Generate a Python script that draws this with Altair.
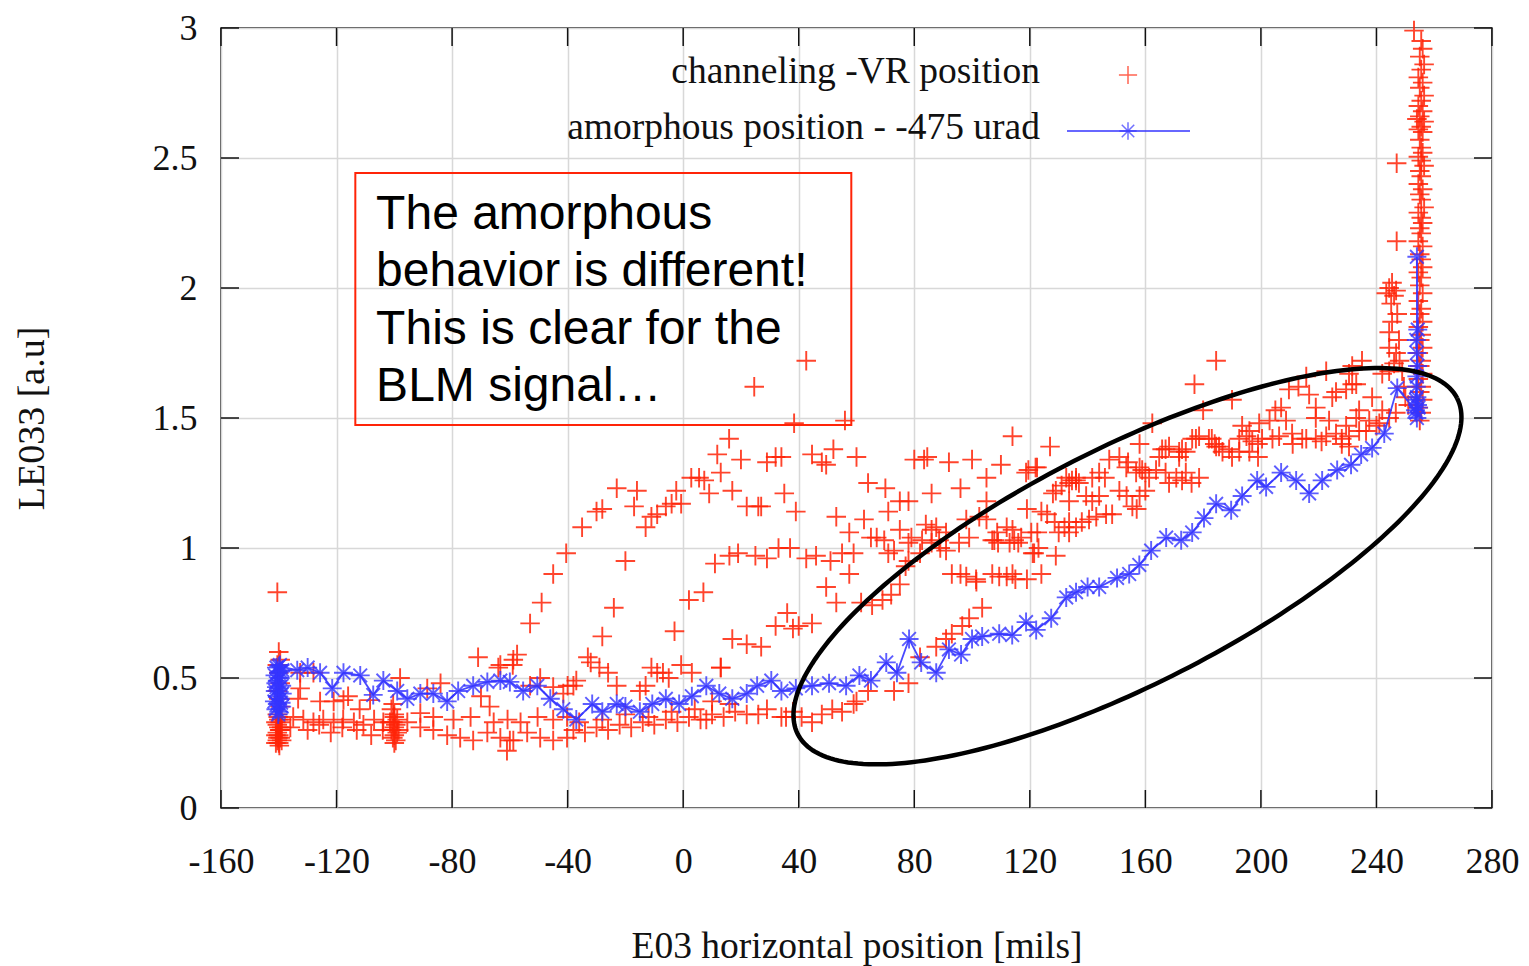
import altair as alt
import numpy as np
import pandas as pd

# ---------------------------------------------------------------- axes
X_DOMAIN = [-160, 280]
Y_DOMAIN = [0, 3]
X_TICKS = [-160, -120, -80, -40, 0, 40, 80, 120, 160, 200, 240, 280]
Y_TICKS = [0, 0.5, 1, 1.5, 2, 2.5, 3]

X_TITLE = "E03 horizontal position [mils]"
Y_TITLE = "LE033 [a.u]"
LEGEND_LABELS = ["channeling -VR position", "amorphous position - -475 urad"]
NOTE_TEXT = "The amorphous\nbehavior is different!\nThis is clear for the\nBLM signal…"

# ---------------------------------------------------------------- channeling scan (red +)
chan_start = [
    (-140.5, 0.83), (-140.0, 0.60), (-139.5, 0.57), (-140.5, 0.55), (-140.0, 0.52),
    (-139.5, 0.48), (-140.5, 0.45), (-140.0, 0.42), (-139.5, 0.39), (-140.5, 0.36),
    (-140.0, 0.34), (-139.5, 0.33), (-140.5, 0.32), (-140.0, 0.31), (-139.5, 0.30),
    (-140.5, 0.29), (-140.0, 0.28), (-139.5, 0.27), (-140.5, 0.26), (-140.0, 0.25),
    (-139.8, 0.24), (-140.2, 0.35), (-139.7, 0.30), (-140.3, 0.27), (-141.0, 0.33),
    (-139.0, 0.31), (-141.0, 0.28), (-139.0, 0.26), (-141.0, 0.25), (-139.0, 0.34),
]
chan_flat = [
    (-135, 0.35), (-131.5, 0.34), (-128, 0.33), (-124.6, 0.34), (-121, 0.33), (-117.7, 0.34),
    (-114, 0.33), (-110.7, 0.32), (-107, 0.34), (-103.8, 0.33),
    (-136, 0.31), (-130, 0.30), (-126, 0.32), (-122, 0.29), (-118, 0.31), (-113, 0.30),
    (-108, 0.28), (-104, 0.30),
    (-132.6, 0.46), (-133.3, 0.42), (-125.7, 0.41), (-121, 0.41), (-117.6, 0.415), (-116, 0.43),
    (-112, 0.38), (-108.4, 0.415), (-98, 0.50), (-100.4, 0.40), (-88.6, 0.46), (-84, 0.48),
    (-70, 0.43), (-67, 0.39), (-71, 0.58), (-63.3, 0.55), (-57.5, 0.59), (-58.8, 0.57),
    (-53, 0.47), (-49.5, 0.50), (-45, 0.465), (-41.5, 0.44), (-128, 0.52), (-132.6, 0.52),
    (-95.5, 0.33), (-91, 0.31), (-86.5, 0.30), (-81.7, 0.28), (-77.2, 0.27), (-72.7, 0.26),
    (-67.8, 0.29), (-63.3, 0.27), (-58.8, 0.26), (-54, 0.29), (-49.5, 0.27), (-45, 0.26),
    (-40.2, 0.27),
    (-91, 0.365), (-86.5, 0.35), (-79.5, 0.34), (-73.6, 0.35), (-65.6, 0.33), (-60.8, 0.34),
    (-56.3, 0.33), (-50.4, 0.35), (-45, 0.34), (-40.2, 0.35), (-61, 0.22), (-60, 0.26),
]
chan_block = [
    (-101, 0.38), (-100, 0.36), (-99, 0.34), (-100.5, 0.33), (-99.5, 0.32), (-100, 0.31),
    (-101, 0.30), (-99, 0.29), (-100, 0.28), (-100.5, 0.27), (-99.5, 0.26), (-100, 0.25),
    (-98.5, 0.30), (-101.5, 0.33), (-100, 0.35),
]
chan_mid_low = [
    (-38, 0.30), (-34, 0.29), (-30, 0.31), (-26, 0.30), (-22, 0.32), (-18, 0.31), (-14, 0.33),
    (-10, 0.32), (-6, 0.34), (-2, 0.33), (2, 0.35), (6, 0.34), (10, 0.36), (14, 0.35),
    (18, 0.37), (22, 0.36), (26, 0.36), (29, 0.38), (34, 0.35), (38, 0.37), (41, 0.35),
    (44.6, 0.33), (48, 0.36), (51.6, 0.38), (55, 0.37), (59, 0.40), (60, 0.41), (64, 0.45),
    (73, 0.45), (78, 0.48), (-36, 0.33), (-28, 0.34), (-20, 0.36), (-12, 0.35), (-4, 0.37),
    (4, 0.38), (8, 0.34), (10, 0.41), (16, 0.40), (35.6, 0.35),
]
chan_mid_rise = [
    (-64, 0.54), (-59, 0.55), (-40, 0.47), (-38, 0.47), (-37, 0.49), (-33, 0.58), (-32, 0.56),
    (-29, 0.54), (-26, 0.52), (-23, 0.47), (-15, 0.45), (-13, 0.47), (-11, 0.54), (-9, 0.52),
    (-7, 0.52), (-5, 0.50), (-0.7, 0.55), (3, 0.52), (13, 0.54),
]
chan_arc_high = [
    (-53, 0.71), (-49, 0.79), (-45, 0.90), (-40.5, 0.98), (-35, 1.08), (-30, 1.14), (-28, 1.15),
    (-23, 1.23), (-17, 1.16), (-16, 1.22), (-13, 1.08), (-11, 1.12), (-9, 1.13), (-6, 1.16),
    (-4, 1.17), (-2.4, 1.22), (-0.7, 1.17), (2.8, 1.27), (5.5, 1.27), (7.3, 1.26), (9, 1.21),
    (11.8, 1.36), (13, 1.29), (15.9, 1.42), (17, 1.22), (20, 1.34), (22, 1.16), (27, 1.16),
    (29, 1.33), (32, 1.35), (34, 1.35), (35, 1.21), (39, 1.14), (38.4, 1.48), (42.6, 1.72),
    (24.6, 1.62), (56, 1.49), (44.6, 1.36), (48, 1.33), (49.5, 1.32), (52, 1.38), (60, 1.35),
    (64, 1.25), (70, 1.23), (75, 1.18), (78, 1.18), (71, 1.14), (53, 1.12), (57.5, 1.06),
    (62.6, 1.11), (65, 1.04), (67, 1.04), (69.6, 1.03), (75, 1.07), (78, 1.02), (80, 1.34),
    (26, 1.16),
]
chan_arc_mid = [
    (-28, 0.66), (-24, 0.77), (-20, 0.95), (-3, 0.68), (2, 0.80), (7, 0.83), (11, 0.94),
    (16, 0.97), (19, 0.98), (25, 0.97), (29, 0.96), (33, 1.0), (37, 1.0), (42.6, 0.96),
    (46, 0.97), (51, 0.95), (55, 0.98), (59, 0.98), (57.5, 0.90), (49.5, 0.85), (53, 0.79),
    (61.6, 0.79), (65.4, 0.78), (69, 0.80), (72, 0.82), (75, 0.86), (78, 0.95), (77, 0.93),
    (73, 0.99), (71, 0.98), (82, 0.98),
]
chan_arc_low = [
    (13, 0.54), (17, 0.65), (22, 0.63), (27, 0.62), (32, 0.70), (36, 0.75), (38, 0.69),
    (40, 0.70), (44.6, 0.71), (82, 0.58), (87.6, 0.62), (91, 0.65), (93, 0.67), (96.6, 0.70),
    (99, 0.73), (103.5, 0.77), (101.5, 0.87), (98, 0.89), (96, 0.90), (93, 0.90), (101.4, 0.88),
]
chan_band = [
    (114, 1.43), (127, 1.39), (83.4, 1.34), (84.5, 1.35), (92, 1.33), (100, 1.34), (110, 1.32),
    (119.5, 1.30), (122.5, 1.31), (105, 1.27), (96, 1.23), (86, 1.21), (105, 1.18), (98, 1.11),
    (102.5, 1.12), (112, 1.08), (114, 1.07), (119, 1.15), (126, 1.13), (132.6, 1.27),
    (134.6, 1.26), (129, 1.22), (133.6, 1.18), (133.6, 1.10), (107, 1.03), (109, 1.02),
    (113, 1.02), (116, 1.02), (121.5, 0.98), (129, 0.97), (84, 1.09), (87.6, 1.08), (91, 1.06),
    (79, 1.04), (82.7, 1.03), (86, 1.02), (89, 1.0), (107, 0.90), (112, 0.89), (114, 0.90),
    (115, 0.88), (119, 0.88), (124, 0.90), (109.4, 0.89), (158, 1.40), (151, 1.35),
    (154, 1.33), (158, 1.31), (160, 1.29), (144, 1.29), (146, 1.27), (136, 1.27), (137, 1.25),
    (131, 1.24), (128, 1.21), (139.5, 1.20), (141.6, 1.18), (144, 1.20), (151, 1.22),
    (153.5, 1.20), (155.5, 1.16), (158, 1.20), (160, 1.22), (148.5, 1.13), (146.4, 1.13),
    (143, 1.12), (140.5, 1.11), (138, 1.10), (136, 1.08), (133.6, 1.06), (132, 1.08),
    (157, 1.15), (124, 1.14), (128.6, 1.10), (130, 1.06), (122.6, 1.06), (120.5, 1.06),
    (117, 1.04), (114.6, 1.03), (108.7, 1.06), (107.7, 1.03), (123, 1.0), (121, 0.98),
    (105, 1.11), (99, 1.04), (95.5, 1.02), (91, 0.99), (88.6, 1.03), (86, 1.07), (118.7, 1.29),
    (122, 1.31), (147.5, 1.34), (153.4, 1.31), (156.8, 1.29), (158.9, 1.30), (141.6, 1.27),
    (136, 1.26), (133.6, 1.25),
]
chan_upper = [
    (162.4, 1.48), (177, 1.63), (184.5, 1.72), (190, 1.57), (180, 1.53), (163.7, 1.30),
    (167, 1.29), (170.7, 1.27), (174, 1.29), (178.6, 1.27), (176, 1.25), (172.7, 1.26),
    (168.2, 1.25), (161.3, 1.27), (164.8, 1.35), (165.8, 1.38), (168.2, 1.39), (171.7, 1.37),
    (172.7, 1.38), (176.2, 1.42), (178.6, 1.43), (182, 1.42), (184.5, 1.39), (189, 1.38),
    (192.5, 1.42), (197, 1.41), (200.4, 1.42), (177.5, 1.42), (174, 1.37), (171.7, 1.35),
    (167, 1.38), (183, 1.42), (185.5, 1.39), (192.5, 1.37), (196, 1.37), (199, 1.35),
    (190, 1.35), (186.7, 1.37), (184, 1.40), (199, 1.40), (204, 1.42), (206.3, 1.43),
    (211, 1.40), (215.7, 1.42), (221, 1.41), (228, 1.40), (235, 1.72), (231.6, 1.70),
    (230.5, 1.67), (222.6, 1.68), (215.7, 1.66), (213, 1.62), (216.7, 1.59), (226, 1.60),
    (229.5, 1.61), (233, 1.63), (209.7, 1.61), (207, 1.54), (205, 1.53), (203, 1.49),
    (199.4, 1.48), (196, 1.45), (193.5, 1.47), (219, 1.50), (223.6, 1.49), (229.5, 1.47),
    (233, 1.50), (237.5, 1.49), (241, 1.48), (244.4, 1.50), (246.7, 1.52), (242, 1.53),
    (210.8, 1.44), (214.3, 1.42), (219, 1.42), (222.6, 1.43), (226, 1.44), (230.5, 1.43),
    (234, 1.45), (236.4, 1.45), (240, 1.47), (228, 1.42), (230.5, 1.39), (244.4, 1.77),
    (248, 1.72), (244.4, 1.68), (242, 1.67), (219, 1.54), (224.7, 1.58), (208.7, 1.49),
    (195, 1.43), (238.5, 1.58), (234, 1.53), (231.6, 1.63),
]
chan_edge = [
    (253.0, 2.99), (255.5, 2.95), (256.0, 2.92), (255.0, 2.89), (256.5, 2.86), (255.5, 2.84),
    (254.5, 2.81), (256.0, 2.79), (255.0, 2.77), (256.5, 2.74), (255.5, 2.72), (254.5, 2.70),
    (256.0, 2.68), (255.0, 2.66), (254.0, 2.65), (256.5, 2.64), (255.5, 2.62), (254.5, 2.61),
    (256.0, 2.60), (255.0, 2.57), (255.5, 2.54), (256.0, 2.52), (254.5, 2.505), (255.5, 2.49),
    (256.5, 2.47), (255.0, 2.45), (255.5, 2.43), (254.5, 2.40), (256.0, 2.38), (255.0, 2.36),
    (255.5, 2.34), (256.5, 2.31), (254.5, 2.29), (255.5, 2.27), (256.0, 2.25), (255.0, 2.23),
    (255.5, 2.21), (254.5, 2.18), (256.0, 2.16), (255.0, 2.13), (255.5, 2.11), (256.0, 2.08),
    (254.5, 2.06), (255.5, 2.04), (255.0, 2.01), (256.0, 1.98), (254.5, 1.95), (255.5, 1.92),
    (255.0, 1.90), (256.0, 1.87), (254.5, 1.85), (255.5, 1.82), (255.0, 1.80), (256.0, 1.77),
    (254.5, 1.75), (255.5, 1.72), (255.0, 1.70), (256.0, 1.67), (254.5, 1.65), (255.5, 1.62),
    (255.0, 1.60), (256.0, 1.57), (254.5, 1.54), (255.5, 1.52), (255.0, 1.49),
    (247, 2.48), (247, 2.18),
    (245.4, 2.02), (244.4, 2.00), (246.8, 1.99), (246.1, 1.97), (245.1, 1.94), (243.4, 1.98),
    (247.2, 1.90), (245.4, 1.87), (244.4, 1.83), (247.8, 1.80), (246.8, 1.75), (248.9, 1.68),
    (246.1, 1.71), (249.5, 1.62), (250, 1.58), (251, 1.55),
]

# ---------------------------------------------------------------- amorphous scan (blue *), in scan order
amorph = [
    (-140.0, 0.37), (-141.0, 0.38), (-139.0, 0.39), (-140.5, 0.40), (-141.5, 0.41),
    (-139.5, 0.42), (-140.5, 0.43), (-138.8, 0.44), (-141.2, 0.45), (-140.0, 0.46),
    (-139.0, 0.47), (-141.0, 0.48), (-140.5, 0.49), (-139.5, 0.50), (-141.3, 0.51),
    (-140.0, 0.52), (-138.8, 0.53), (-140.8, 0.54), (-139.6, 0.55), (-140.2, 0.36),
    (-139.2, 0.405), (-140.8, 0.465), (-139.4, 0.525), (-140.0, 0.545),
    (-133.6, 0.53), (-130, 0.54), (-125.7, 0.52), (-121.5, 0.46), (-117.6, 0.52), (-111.8, 0.51),
    (-107.3, 0.435), (-103.8, 0.49), (-99, 0.45), (-95.5, 0.42), (-91, 0.44), (-86.5, 0.44),
    (-81.7, 0.41), (-77.9, 0.45), (-72.7, 0.47), (-67.8, 0.485), (-63.3, 0.49), (-60, 0.485),
    (-55.4, 0.45), (-50.5, 0.47), (-46, 0.42), (-41.5, 0.38), (-37, 0.34), (-31.5, 0.40),
    (-28, 0.37), (-23, 0.40), (-20, 0.39), (-15, 0.37), (-10.7, 0.40), (-6, 0.42), (-1.4, 0.40),
    (3, 0.43), (8, 0.47), (12.5, 0.44), (17, 0.42), (22, 0.44), (25.6, 0.47), (30.5, 0.49),
    (34, 0.45), (39, 0.46), (44.6, 0.47), (50.5, 0.48), (56.4, 0.47), (61, 0.51), (65, 0.49),
    (70.3, 0.56), (74, 0.52), (78.2, 0.65), (82.4, 0.56), (87.6, 0.52), (92, 0.61), (96.2, 0.59),
    (100, 0.65), (103.5, 0.66), (109.4, 0.67), (113.9, 0.665), (118.7, 0.715), (122.2, 0.685),
    (127.4, 0.73), (132.6, 0.81), (136, 0.83), (140, 0.85), (144, 0.85), (150.2, 0.885),
    (154.4, 0.90), (157.9, 0.935), (162, 0.99), (167.2, 1.04), (172.4, 1.03), (176.2, 1.06),
    (180.3, 1.115), (184.5, 1.17), (189.7, 1.145), (193.5, 1.20), (198.7, 1.26), (201.8, 1.235),
    (207, 1.29), (212.2, 1.26), (216.7, 1.21), (221.2, 1.26), (226.4, 1.30), (231.2, 1.32),
    (234.7, 1.36), (238.5, 1.385), (242.7, 1.44), (247.2, 1.615),
    (253.5, 1.53), (254.0, 1.66), (254.0, 2.12), (254.3, 1.84), (253.8, 1.80), (254.0, 1.75),
    (254.2, 1.70), (253.8, 1.62), (254.0, 1.58), (254.2, 1.55), (253.8, 1.52), (254.0, 1.50),
    (254.5, 1.54), (253.7, 1.57),
]

# ---------------------------------------------------------------- annotations (data units)
NOTE_BOX = {"x": -113.5, "x2": 58.2, "y": 1.473, "y2": 2.442}
NOTE_ANCHOR = {"x": -106.3, "y": 2.227}
ELL_CENTER = (153.8, 0.93)
ELL_AXES_PX = (370, 118)
ELL_TILT_DEG = 27

# ---------------------------------------------------------------- layout / style
W, H = 1271, 780
TICK_LEN = 18
RED = "#ff2408"
BLUE = "#3535ff"
SERIF = "Liberation Serif"
SANS = "Liberation Sans"
PLUS = "M-1,0L1,0M0,-1L0,1"
STAR = "M-1,0L1,0M0,-1L0,1M-0.72,-0.72L0.72,0.72M-0.72,0.72L0.72,-0.72"

red_df = pd.DataFrame(
    chan_start + chan_flat + chan_block + chan_mid_low + chan_mid_rise
    + chan_arc_high + chan_arc_mid + chan_arc_low + chan_band + chan_upper + chan_edge,
    columns=["x", "y"],
)
blue_df = pd.DataFrame(amorph, columns=["x", "y"])
blue_df["i"] = range(len(blue_df))

# ellipse outline around the region of interest
px_per_x = W / (X_DOMAIN[1] - X_DOMAIN[0])
px_per_y = H / (Y_DOMAIN[1] - Y_DOMAIN[0])
t = np.linspace(0, 2 * np.pi, 241)
phi = np.radians(ELL_TILT_DEG)
a, b = ELL_AXES_PX
ex = a * np.cos(t) * np.cos(phi) - b * np.sin(t) * np.sin(phi)
ey = a * np.cos(t) * np.sin(phi) + b * np.sin(t) * np.cos(phi)
ell_df = pd.DataFrame({
    "x": ELL_CENTER[0] + ex / px_per_x,
    "y": ELL_CENTER[1] + ey / px_per_y,
    "i": range(len(t)),
})

xs = alt.Scale(domain=X_DOMAIN, nice=False, zero=False)
ys = alt.Scale(domain=Y_DOMAIN, nice=False, zero=False)

x_axis = alt.Axis(
    values=X_TICKS, grid=True, ticks=False, domain=False,
    labelExpr="'' + datum.value", labelFont=SERIF, labelFontSize=36, labelColor="#111",
    labelPadding=53, labelBaseline="middle", labelFlush=False, labelOverlap=False,
    title=X_TITLE, titleFont=SERIF, titleFontSize=37.5, titleFontWeight="normal",
    titleColor="#111", titleX=W / 2, titleY=138, titleBaseline="middle", titleAlign="center",
)
y_axis = alt.Axis(
    values=Y_TICKS, grid=True, ticks=False, domain=False,
    labelExpr="'' + datum.value", labelFont=SERIF, labelFontSize=36, labelColor="#111",
    labelPadding=24, labelBaseline="middle", labelAlign="right", labelFlush=False,
    labelOverlap=False,
    title=Y_TITLE, titleFont=SERIF, titleFontSize=38, titleFontWeight="normal",
    titleColor="#111", titleAngle=270, titleX=-189, titleY=H / 2, titleBaseline="middle",
    titleAlign="center",
)

red = alt.Chart(red_df).mark_point(
    shape=PLUS, filled=False, size=380, strokeWidth=1.9, color=RED, opacity=0.85
).encode(
    x=alt.X("x:Q", scale=xs, axis=x_axis),
    y=alt.Y("y:Q", scale=ys, axis=y_axis),
)

blue_line = alt.Chart(blue_df).mark_line(color=BLUE, strokeWidth=1.8, opacity=0.9).encode(
    x=alt.X("x:Q", scale=xs), y=alt.Y("y:Q", scale=ys), order="i:Q"
)
blue_pts = alt.Chart(blue_df).mark_point(
    shape=STAR, filled=False, size=360, strokeWidth=1.9, color=BLUE, opacity=0.8
).encode(x=alt.X("x:Q", scale=xs), y=alt.Y("y:Q", scale=ys))

# inward tick marks on all four sides
xt = pd.DataFrame({"v": X_TICKS})
yt = pd.DataFrame({"v": Y_TICKS})
tick_style = dict(color="#111", strokeWidth=1.5)
ticks_bottom = alt.Chart(xt).mark_rule(**tick_style).encode(
    x=alt.X("v:Q", scale=xs), y=alt.value(H), y2=alt.value(H - TICK_LEN))
ticks_top = alt.Chart(xt).mark_rule(**tick_style).encode(
    x=alt.X("v:Q", scale=xs), y=alt.value(0), y2=alt.value(TICK_LEN))
ticks_left = alt.Chart(yt).mark_rule(**tick_style).encode(
    y=alt.Y("v:Q", scale=ys), x=alt.value(0), x2=alt.value(TICK_LEN))
ticks_right = alt.Chart(yt).mark_rule(**tick_style).encode(
    y=alt.Y("v:Q", scale=ys), x=alt.value(W), x2=alt.value(W - TICK_LEN))

ellipse = alt.Chart(ell_df).mark_line(color="#000", strokeWidth=4.5).encode(
    x=alt.X("x:Q", scale=xs), y=alt.Y("y:Q", scale=ys), order="i:Q"
)

note_box = alt.Chart(pd.DataFrame([NOTE_BOX])).mark_rect(
    fillOpacity=0, stroke=RED, strokeWidth=2
).encode(
    x=alt.X("x:Q", scale=xs), x2="x2:Q", y=alt.Y("y:Q", scale=ys), y2="y2:Q"
)
note_text = alt.Chart(pd.DataFrame([{**NOTE_ANCHOR, "t": NOTE_TEXT}])).mark_text(
    font=SANS, fontSize=48, lineHeight=57.3, align="left", baseline="alphabetic",
    lineBreak="\n", color="#000"
).encode(x=alt.X("x:Q", scale=xs), y=alt.Y("y:Q", scale=ys), text="t:N")

# key, drawn inside the plot area at the top
key_style = dict(font=SERIF, fontSize=37.5, align="right", baseline="middle", color="#111")
key_red_label = alt.Chart(pd.DataFrame({"t": [LEGEND_LABELS[0]]})).mark_text(**key_style).encode(
    x=alt.value(819), y=alt.value(44), text="t:N")
key_blue_label = alt.Chart(pd.DataFrame({"t": [LEGEND_LABELS[1]]})).mark_text(**key_style).encode(
    x=alt.value(819), y=alt.value(100), text="t:N")
key_red_sym = alt.Chart(pd.DataFrame({"t": [0]})).mark_point(
    shape=PLUS, filled=False, size=330, strokeWidth=1.5, color=RED
).encode(x=alt.value(907), y=alt.value(47))
key_blue_line = alt.Chart(pd.DataFrame({"t": [0]})).mark_rule(color=BLUE, strokeWidth=1.5).encode(
    x=alt.value(846), x2=alt.value(969), y=alt.value(103))
key_blue_sym = alt.Chart(pd.DataFrame({"t": [0]})).mark_point(
    shape=STAR, filled=False, size=300, strokeWidth=1.5, color=BLUE
).encode(x=alt.value(907), y=alt.value(103))

chart = alt.layer(
    red, blue_line, blue_pts, ellipse, note_box, note_text,
    ticks_bottom, ticks_top, ticks_left, ticks_right,
    key_red_label, key_blue_label, key_red_sym, key_blue_line, key_blue_sym,
).properties(
    width=W, height=H,
    autosize=alt.AutoSizeParams(type="none"),
    padding={"left": 221, "top": 28, "right": 37, "bottom": 158},
    background="white",
).configure_view(
    stroke="#111", strokeWidth=1.5
).configure_axis(
    gridColor="#d8d8d8", gridWidth=1.5
)

chart.save("out.html", embed_options={"renderer": "svg", "actions": False})
